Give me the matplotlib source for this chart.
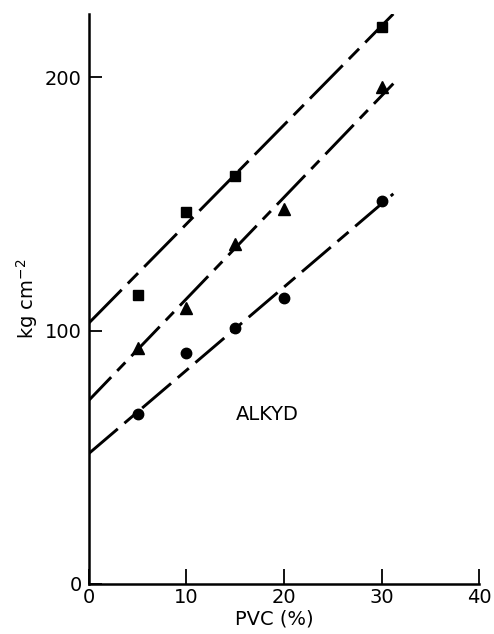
import matplotlib
matplotlib.use("Agg")
import matplotlib.pyplot as plt
import numpy as np

# data
pvc = [5, 10, 15, 20, 30]
sq_pvc = [5, 10, 15, 30]
sq_val = [114, 147, 161, 220]
tri_val = [93, 109, 134, 148, 196]
circ_val = [67, 91, 101, 113, 151]

# fitted lines (intercept at 0, end point)
line_x = [0, 31.2]
sq_line = [103, 225]
tri_line = [72.5, 197.5]
circ_line = [51.5, 154]

fig = plt.figure(figsize=(4.94, 6.34), dpi=100)
ax = fig.add_axes([0.180, 0.079, 0.790, 0.899])

ax.plot(line_x, sq_line, color='black', lw=2.1, linestyle=(0, (16, 3, 5, 3)))
ax.plot(line_x, tri_line, color='black', lw=2.1, linestyle=(3, (14, 3, 4, 3)))
ax.plot(line_x, circ_line, color='black', lw=2.1, linestyle=(0, (13, 3, 5, 3)))

ax.plot(sq_pvc, sq_val, 's', color='black', ms=7.5, ls='none')
ax.plot(pvc, tri_val, '^', color='black', ms=8, ls='none')
ax.plot(pvc, circ_val, 'o', color='black', ms=7.5, ls='none')

ax.text(18.3, 67, 'ALKYD', fontsize=14, ha='center', va='center')

ax.set_xlim(0, 40)
ax.set_ylim(0, 225)
ax.spines['top'].set_visible(False)
ax.spines['right'].set_visible(False)
for s in ('left', 'bottom'):
    ax.spines[s].set_linewidth(1.8)

ax.set_xticks([0, 10, 20, 30, 40])
ax.set_yticks([0, 100, 200])
ax.tick_params(axis='x', direction='in', length=11, width=1.3, labelsize=14, pad=3)
ax.tick_params(axis='y', direction='in', length=9, width=1.3, labelsize=14, pad=5)
ax.set_xlabel('PVC (%)', fontsize=14, labelpad=0)
ax.xaxis.set_label_coords(0.475, -0.045)
ax.set_ylabel('kg cm$^{-2}$', fontsize=14, labelpad=4)

fig.savefig('out.png', dpi=100)
